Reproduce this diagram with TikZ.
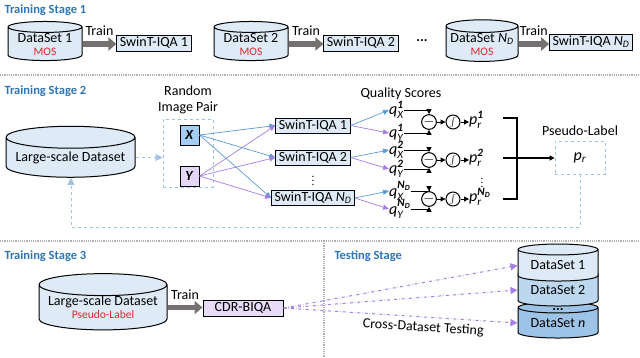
\documentclass[tikz,border=0pt]{standalone}
\usepackage{amsmath}
\usepackage{fontspec}
\setmainfont{Carlito}
\usetikzlibrary{arrows.meta,shapes.geometric,positioning}

\definecolor{stageblue}{HTML}{2E75B6}
\definecolor{dbfill}{HTML}{DEEBF7}
\definecolor{dbmid}{HTML}{BDD7EE}
\definecolor{dbdark}{HTML}{9DC3E6}
\definecolor{xfill}{HTML}{A3CDF2}
\definecolor{yfill}{HTML}{E2D7F6}
\definecolor{cdrfill}{HTML}{E6DCF7}
\definecolor{lineblue}{HTML}{5B9BD5}
\definecolor{linepurple}{HTML}{A47EE6}
\definecolor{dashblue}{HTML}{9DC3E6}
\definecolor{traingray}{HTML}{767171}
\definecolor{mosred}{HTML}{D42A2A}
\definecolor{sepgray}{HTML}{B0B0B0}

\newcommand{\mos}[1]{{\fontsize{11.5}{11.5}\selectfont\color{mosred}#1}}
\newcommand{\qsc}[2]{\textit{q}$^{\textbf{\textit{#1}}}_{\textit{#2}}$}
\newcommand{\prs}[1]{\textit{p}$^{\textbf{\textit{#1}}}_{\textit{r}}$}

\tikzset{
  stagetitle/.style={font=\fontsize{12.5}{14}\selectfont\bfseries, text=stageblue, anchor=west},
  db/.style={cylinder, shape border rotate=90, aspect=0.2, draw=black, line width=1pt,
    fill=dbfill, align=center, inner sep=0pt},
  net/.style={draw=black, line width=1pt, fill=dbfill, inner xsep=3pt, inner ysep=0pt,
    minimum height=16pt},
  trainarrow/.style={draw=traingray, line width=5.5pt, -{Triangle[length=8pt,width=13pt]}},
  imgbox/.style={draw=black, line width=1pt, minimum width=19pt, minimum height=20pt, inner sep=0pt},
  dashbox/.style={draw=dashblue, dashed, line width=0.9pt},
  bluearr/.style={draw=lineblue, line width=0.7pt, -{Triangle[length=6pt,width=5pt]}},
  purparr/.style={draw=linepurple, line width=0.7pt, -{Triangle[length=6pt,width=5pt]}},
  qlab/.style={anchor=west, inner sep=0pt, font=\fontsize{16}{16}\selectfont},
  vdot/.style={inner sep=0pt, font=\fontsize{11}{11}\selectfont},
  opnode/.style={circle, draw=black, line width=1pt, minimum size=14pt, inner sep=0pt},
  blk/.style={draw=black, line width=1pt, -{Triangle[length=5pt,width=5pt]}},
  fbline/.style={draw=dashblue, dashed, line width=0.9pt, -{Triangle[length=7pt,width=7pt]}},
  testarr/.style={draw=linepurple, dash dot, line width=1pt, -{Triangle[length=7pt,width=7pt]}},
  sepline/.style={draw=sepgray, densely dotted, line width=1.2pt},
}

\begin{document}
\begin{tikzpicture}[x=1pt, y=-1pt, font=\fontsize{14}{15}\selectfont]
\useasboundingbox (0,0) rectangle (640,357);

% separators
\draw[sepline] (0,75) -- (640,75);
\draw[sepline] (0,241) -- (640,241);
\draw[sepline] (324,241) -- (324,357);

% training stage 1
\node[stagetitle] (title1) at (1,10) {Training Stage 1};
\node[db, minimum width=74pt, minimum height=39pt] (ds1) at (45,44) {DataSet 1\\[-2pt]\mos{MOS}};
\node[db, minimum width=74pt, minimum height=39pt] (ds2) at (251,44) {DataSet 2\\[-2pt]\mos{MOS}};
\node[db, minimum width=72pt, minimum height=39pt] (dsn) at (482,44) {DataSet $\textit{N}_{\textit{D}}$\\[-2pt]\mos{MOS}};
\node[net] (m1) at (154,43) {SwinT-IQA 1};
\node[net] (m2) at (361,43) {SwinT-IQA 2};
\node[net] (mn) at (591,42) {SwinT-IQA $\textit{N}_{\textit{D}}$};
\node (dots1) at (422,41) {\textbf{...}};
\draw[trainarrow] (ds1.east) -- (ds1.east -| m1.west) node[midway, above=2pt] {Train};
\draw[trainarrow] (ds2.east) -- (ds2.east -| m2.west) node[midway, above=2pt] {Train};
\draw[trainarrow] (dsn.east) -- (dsn.east -| mn.west) node[midway, above=2pt] {Train};

% training stage 2
\node[stagetitle] (title2) at (1,91) {Training Stage 2};
\node[db, minimum width=129pt, minimum height=51pt] (big) at (70.5,157.5) {Large-scale Dataset};
\node[dashbox, minimum width=50pt, minimum height=68pt] (pair) at (188,153) {};
\node[above=1pt of pair, align=center, font=\fontsize{14}{16}\selectfont] (pairlbl) {Random\\Image Pair};
\draw[fbline] (big.east) -- (big.east -| pair.west);
\node[imgbox, fill=xfill] (X) at (189.5,135) {\textbf{\textit{X}}};
\node[imgbox, fill=yfill] (Y) at (189.5,176) {\textbf{\textit{Y}}};

\node[net, minimum height=15pt] (s1) at (313,125.5) {SwinT-IQA 1};
\node[net, minimum height=15pt] (s2) at (313,157.5) {SwinT-IQA 2};
\node[net, minimum height=15pt] (s3) at (313,198) {SwinT-IQA $\textit{N}_{\textit{D}}$};
\node[vdot] (vdots1) at (313,178) {$\boldsymbol{\vdots}$};
\foreach \s in {s1,s2,s3} {
  \draw[bluearr] (X.east) -- (\s.west);
  \draw[purparr] (Y.east) -- (\s.west);
}

\node (qs) at (401,94) {Quality Scores};
\node[qlab] (qx1) at (389,110) {\qsc{1}{X}};
\node[qlab] (qy1) at (389,133) {\qsc{1}{Y}};
\node[qlab] (qx2) at (389,150) {\qsc{2}{X}};
\node[qlab] (qy2) at (389,169) {\qsc{2}{Y}};
\node[qlab] (qx3) at (389,191) {\qsc{$\textit{N}_{\textit{D}}$}{X}};
\node[qlab] (qy3) at (389,209) {\qsc{$\textit{N}_{\textit{D}}$}{Y}};
\draw[bluearr] (s1.east) -- (qx1.west);
\draw[purparr] (s1.east) -- (qy1.west);
\draw[bluearr] (s2.east) -- (qx2.west);
\draw[purparr] (s2.east) -- (qy2.west);
\draw[bluearr] (s3.east) -- (qx3.west);
\draw[purparr] (s3.east) -- (qy3.west);

% difference, sigmoid, probability
\foreach \i/\y in {1/122, 2/160, 3/199} {
  \node[opnode] (c\i) at (429,\y) {$-$};
  \node[opnode] (f\i) at (453,\y) {\small$\int$};
  \draw[blk] (qx\i.east) -| (c\i.north);
  \draw[blk] (qy\i.east) -| (c\i.south);
  \draw[blk] (c\i) -- (f\i);
}
\node[qlab] (p1) at (469,120) {\prs{1}};
\node[qlab] (p2) at (469,158) {\prs{2}};
\node[qlab] (p3) at (469,197) {\prs{$\textit{N}_{\textit{D}}$}};
\node[vdot] (vdots2) at (482,180) {$\boldsymbol{\vdots}$};
\draw[blk] (f1) -- (f1 -| p1.west);
\draw[blk] (f2) -- (f2 -| p2.west);
\draw[blk] (f3) -- (f3 -| p3.west);

% bracket and pseudo label
\coordinate (brt) at (503,118);
\coordinate (brb) at (503,199);
\coordinate (brm) at (503,158);
\node[dashbox, minimum width=50pt, minimum height=33pt] (pseudo) at (580,157.5)
  {\fontsize{16}{16}\selectfont\textit{p}$_{\textit{r}}$};
\node[above=1pt of pseudo] (pslbl) {Pseudo-Label};
\draw[line width=1.2pt] (brt) -- ++(14,0) |- (brb);
\draw[blk, line width=1.2pt] (brm) -- (brm -| pseudo.west);
\coordinate (fb) at (71,227);
\draw[fbline] (pseudo.south) |- (fb) -- (big.south -| fb);

% training stage 3
\node[stagetitle] (title3) at (1,256) {Training Stage 3};
\node[db, minimum width=128pt, minimum height=41pt] (big3) at (103,307.5) {Large-scale Dataset\\[-2pt]\mos{Pseudo-Label}};
\node[net, fill=cdrfill, minimum width=80pt] (cdr) at (243,308) {CDR-BIQA};
\draw[trainarrow] (big3.east) -- (big3.east -| cdr.west) node[midway, above=2pt] {Train};

% testing stage
\node[stagetitle] (title4) at (331,256) {Testing Stage};
\node[db, fill=dbdark, minimum width=80pt, minimum height=36pt] (tn) at (558,323) {DataSet \textit{n}};
\node[db, fill=dbmid, minimum width=80pt, minimum height=38pt] (tw) at (558,290) {DataSet 2};
\node[db, fill=dbfill, minimum width=80pt, minimum height=37pt] (to) at (558,265.5) {DataSet 1};
\node (dots2) at (558,310) {\textbf{...}};
\draw[testarr] (cdr.east) -- (to.west);
\draw[testarr] (cdr.east) -- (tw.west);
\draw[testarr] (cdr.east) -- node[pos=0.6, below=1pt, sloped] {Cross-Dataset Testing} (tn.west);
\end{tikzpicture}
\end{document}
